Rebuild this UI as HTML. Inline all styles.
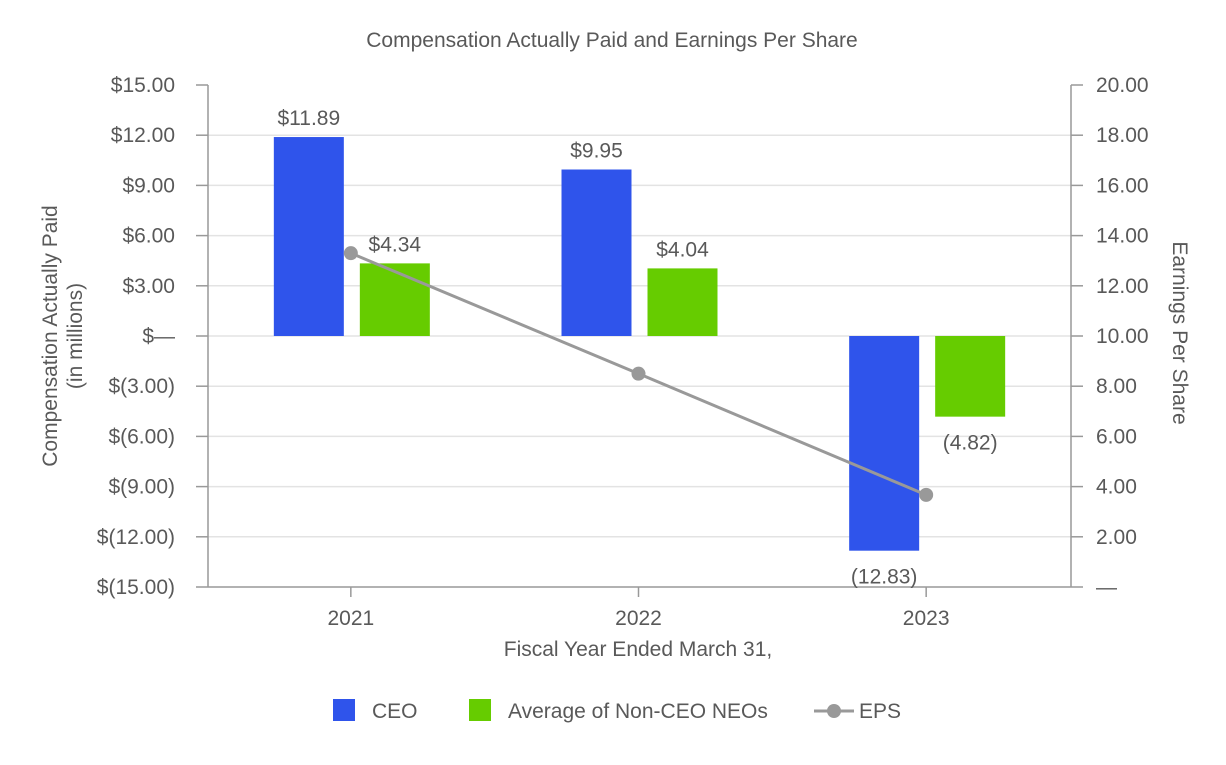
<!DOCTYPE html>
<html><head><meta charset="utf-8"><style>
body{margin:0;background:#fff;font-family:"Liberation Sans",Arial,sans-serif}
svg text{font-family:"Liberation Sans",Arial,sans-serif;fill:#595959}
</style></head><body>
<svg id="c" width="1226" height="760">
<text x="612" y="47" text-anchor="middle" font-size="21">Compensation Actually Paid and Earnings Per Share</text>
</svg>
<script>
const categories=["2021","2022","2023"];
const ceo=[11.89,9.95,-12.83];
const neo=[4.34,4.04,-4.82];
const eps=[13.3,8.5,3.67];
const ceoLabels=["$11.89","$9.95","(12.83)"];
const neoLabels=["$4.34","$4.04","(4.82)"];
const leftTicks=[15,12,9,6,3,0,-3,-6,-9,-12,-15];
const leftTickLabels=["$15.00","$12.00","$9.00","$6.00","$3.00","$—","$(3.00)","$(6.00)","$(9.00)","$(12.00)","$(15.00)"];
const rightTicks=[20,18,16,14,12,10,8,6,4,2,0];
const rightTickLabels=["20.00","18.00","16.00","14.00","12.00","10.00","8.00","6.00","4.00","2.00","—"];
const svg=document.getElementById('c');const NS='http://www.w3.org/2000/svg';
const L=208,R=1071,T=85,B=587,FS=21;
const yL=v=>T+(15-v)/30*(B-T);
const yR=v=>T+(20-v)/20*(B-T);
const xC=i=>L-1+(i+0.5)*(R-L)/categories.length;
function el(t,a,name,txt){const e=document.createElementNS(NS,t);for(const k in a)e.setAttribute(k,a[k]);


if(txt!==undefined)e.textContent=txt;svg.appendChild(e);return e;}
leftTicks.forEach((v,i)=>{const y=yL(v);
if(i>0&&i<leftTicks.length-1)el('line',{x1:L,x2:R,y1:y,y2:y,stroke:'#e3e3e3','stroke-width':1.5},'gridline');
el('line',{x1:L-12,x2:L,y1:y,y2:y,stroke:'#999','stroke-width':1.5},'left-tick');
el('text',{x:175,y:y+7,'text-anchor':'end','font-size':FS},'left-tick-label',leftTickLabels[i]);});
rightTicks.forEach((v,i)=>{const y=yR(v);
el('line',{x1:R,x2:R+12,y1:y,y2:y,stroke:'#999','stroke-width':1.5},'right-tick');
el('text',{x:1096,y:y+7,'font-size':FS},'right-tick-label',rightTickLabels[i]);});
el('line',{x1:L,x2:L,y1:T,y2:B,stroke:'#999','stroke-width':1.5},'left-axis');
el('line',{x1:R,x2:R,y1:T,y2:B,stroke:'#999','stroke-width':1.5},'right-axis');
el('line',{x1:L,x2:R,y1:B,y2:B,stroke:'#999','stroke-width':1.5},'x-axis');
categories.forEach((c,i)=>{const x=xC(i);
el('line',{x1:x,x2:x,y1:B,y2:B+10,stroke:'#999','stroke-width':1.5},'x-tick');
el('text',{x:x,y:625,'text-anchor':'middle','font-size':FS},'x-tick-label',c);
const bw=70;const cx=x-77,nx=x+9;
el('rect',{x:cx,y:Math.min(yL(ceo[i]),yL(0)),width:bw,height:Math.abs(yL(ceo[i])-yL(0)),fill:'#2f54eb'},'bar-ceo-'+c);
el('rect',{x:nx,y:Math.min(yL(neo[i]),yL(0)),width:bw,height:Math.abs(yL(neo[i])-yL(0)),fill:'#66cc00'},'bar-neo-'+c);
const ly=v=>v>=0?yL(v)-12:yL(v)+33;
el('text',{x:cx+bw/2,y:ly(ceo[i]),'text-anchor':'middle','font-size':FS},'ceo-value-label',ceoLabels[i]);
el('text',{x:nx+bw/2,y:ly(neo[i]),'text-anchor':'middle','font-size':FS},'neo-value-label',neoLabels[i]);
});
el('polyline',{points:eps.map((v,i)=>xC(i)+','+yR(v)).join(' '),fill:'none',stroke:'#999','stroke-width':3},'eps-line');
eps.forEach((v,i)=>el('circle',{cx:xC(i),cy:yR(v),r:7,fill:'#999'},'eps-point'));
el('text',{x:0,y:0,'text-anchor':'middle','font-size':FS,transform:'translate(57,336) rotate(-90)'},'y-axis-title','Compensation Actually Paid');
el('text',{x:0,y:0,'text-anchor':'middle','font-size':FS,transform:'translate(82,336) rotate(-90)'},'y-axis-title-sub','(in millions)');
el('text',{x:0,y:0,'text-anchor':'middle','font-size':FS,transform:'translate(1173,333) rotate(90)'},'y2-axis-title','Earnings Per Share');
el('text',{x:638,y:656,'text-anchor':'middle','font-size':FS},'x-axis-title','Fiscal Year Ended March 31,');
el('rect',{x:333,y:699,width:22,height:22,fill:'#2f54eb'},'legend-ceo-swatch');
el('text',{x:372,y:718,'font-size':FS},'legend-ceo','CEO');
el('rect',{x:469,y:699,width:22,height:22,fill:'#66cc00'},'legend-neo-swatch');
el('text',{x:508,y:718,'font-size':FS},'legend-neo','Average of Non-CEO NEOs');
el('line',{x1:814,x2:854,y1:711,y2:711,stroke:'#999','stroke-width':3},'legend-eps-line');
el('circle',{cx:834,cy:711,r:7,fill:'#999'},'legend-eps-marker');
el('text',{x:859,y:718,'font-size':FS},'legend-eps','EPS');
</script>
</body></html>
